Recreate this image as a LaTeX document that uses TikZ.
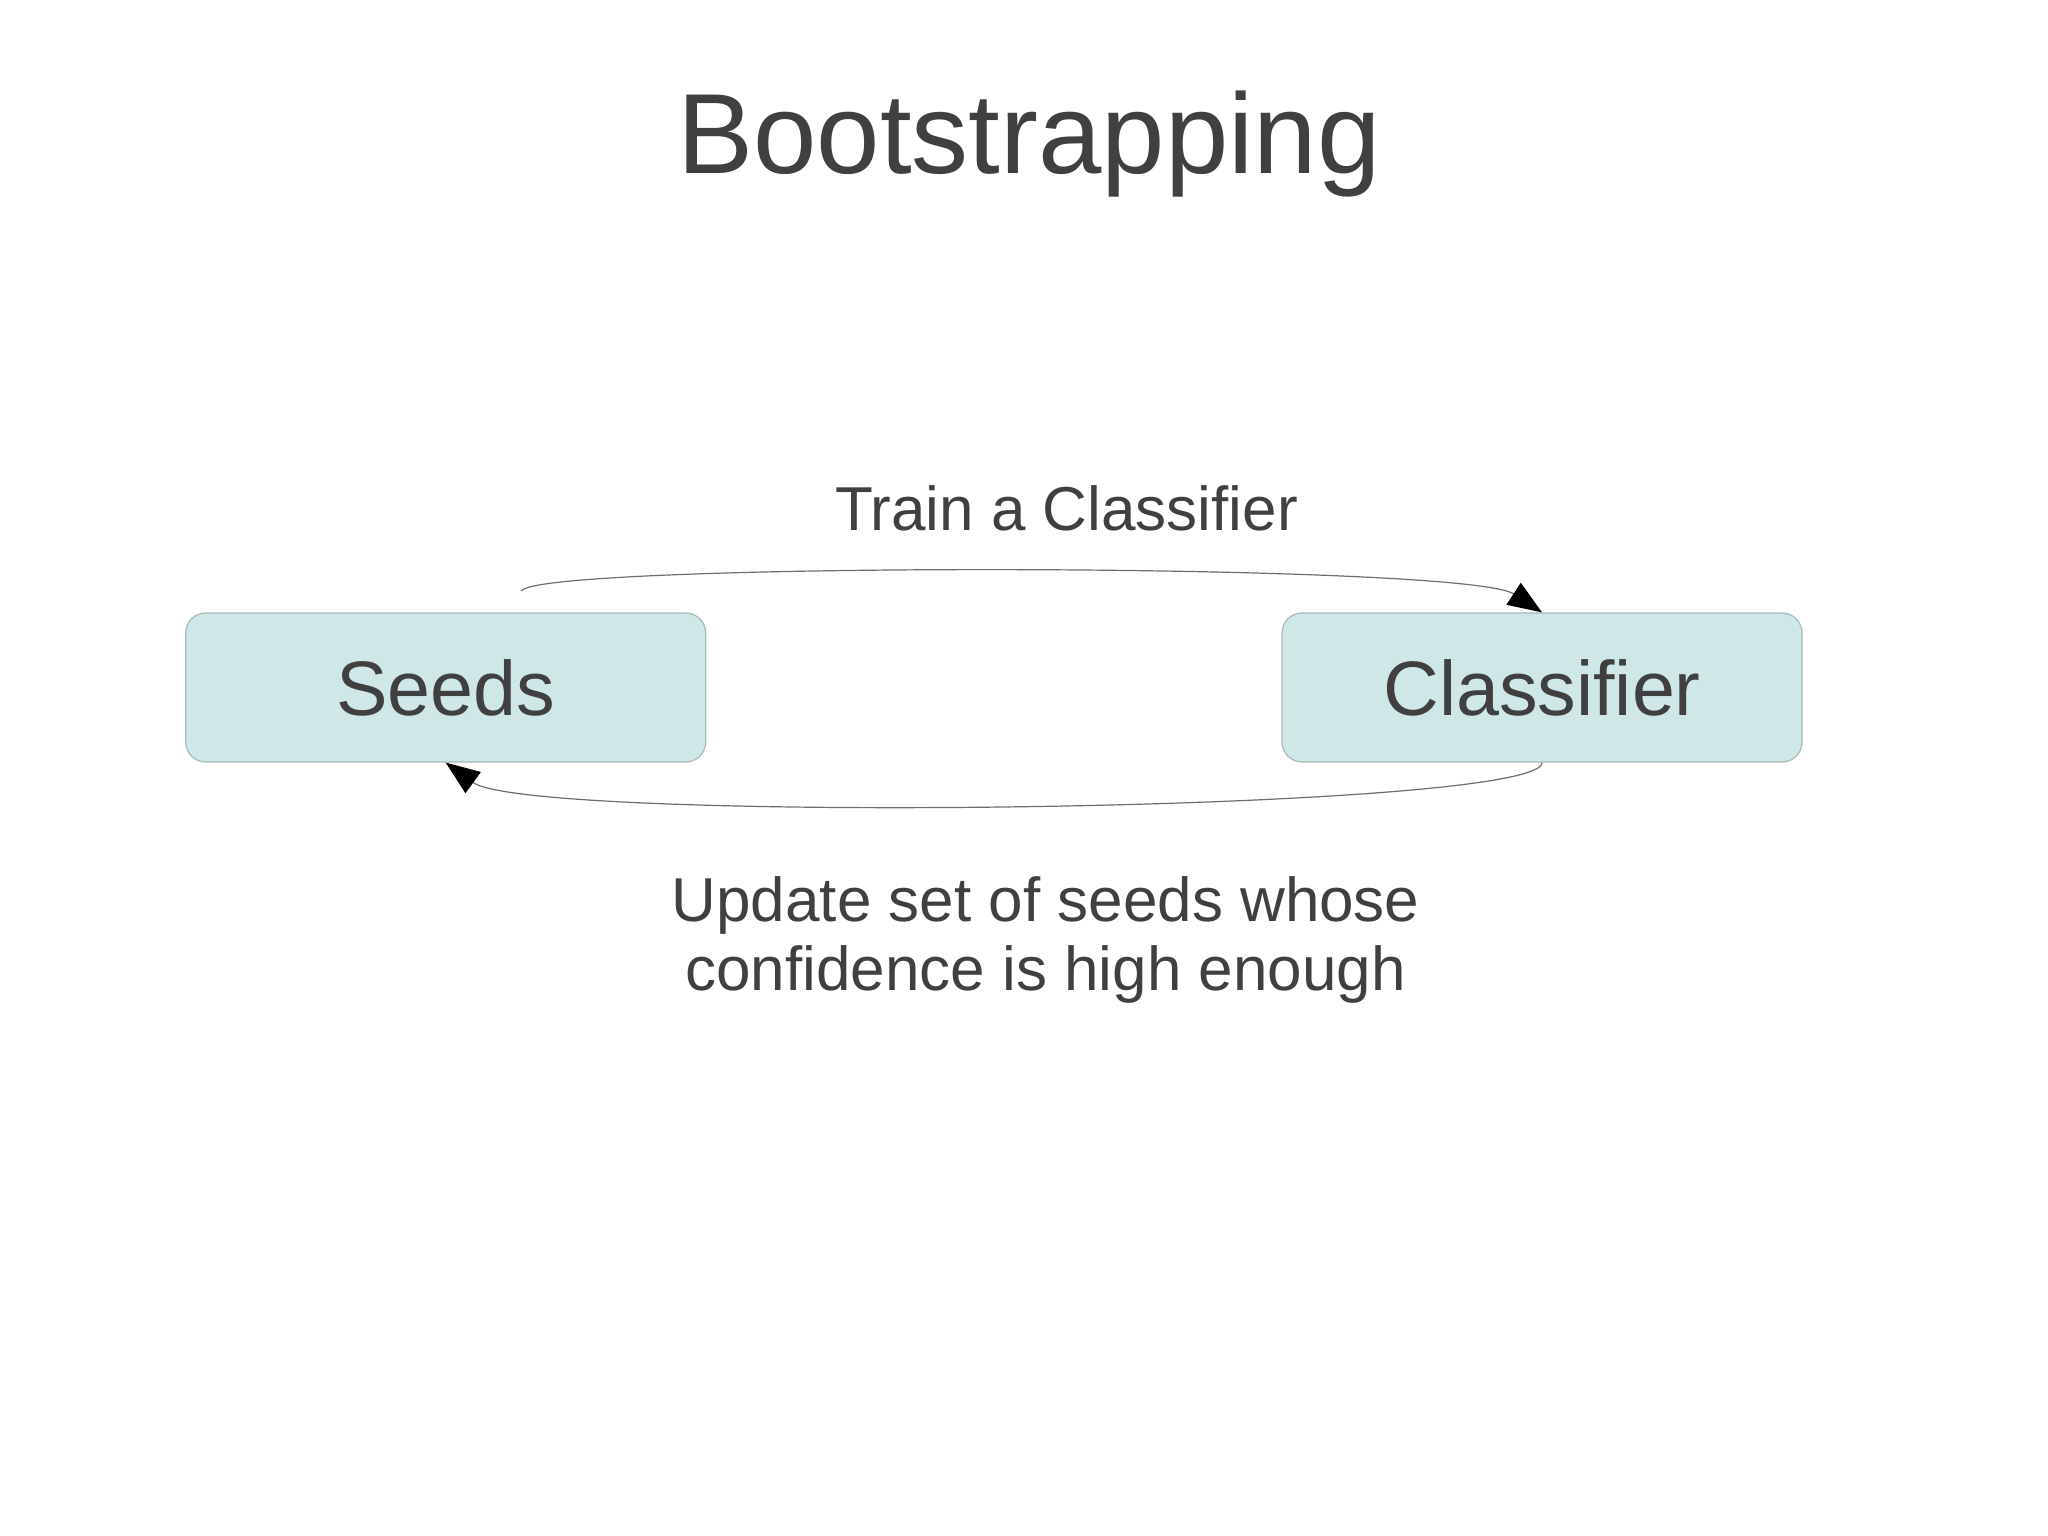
\documentclass[tikz,border=0pt]{standalone}
\usepackage{fontspec}
\setmainfont{Liberation Sans}
\usetikzlibrary{arrows.meta}

\definecolor{inkgray}{RGB}{64,64,64}
\definecolor{boxfill}{RGB}{207,231,230}
\definecolor{boxline}{RGB}{168,186,186}
\definecolor{flowline}{RGB}{110,110,110}

\tikzset{
  stagebox/.style={draw=boxline, fill=boxfill, rounded corners=10pt, line width=0.6pt,
    minimum width=260pt, minimum height=74.5pt, inner sep=0pt, text=inkgray,
    font=\fontsize{38.6}{42}\selectfont},
  flow/.style={draw=flowline, line width=0.6pt, -{Triangle[length=17pt,width=13pt,fill=black,color=black]}},
  caption/.style={text=inkgray, inner sep=0.75pt, font=\fontsize{31}{34.4}\selectfont, align=center}
}

\begin{document}
\begin{tikzpicture}[x=0.5pt,y=0.5pt,yscale=-1,xscale=1]
\useasboundingbox[fill=white] (0,0) rectangle (2048,1535);

% Text Node
\node (title) [anchor=base, text=inkgray, inner sep=0pt, font=\fontsize{57}{62}\selectfont] at (1029,174) {Bootstrapping};

% Boxes
\node (seeds) [stagebox] at (445.7,687.5) {Seeds};
\node (classifier) [stagebox] at (1542,687.5) {Classifier};

%Curve Lines
\coordinate (trainstart) at (521.5,591);
\draw [flow] (trainstart) .. controls (534,562) and (1465,562) .. (classifier.north);
%Curve Lines
\draw [flow] (classifier.south) .. controls (1542,812) and (530,824) .. (seeds.south);

% Text Node
\node (train) [caption, anchor=base] at (1066.5,530.6) {Train a Classifier};
% Text Node
\node (update) [caption, anchor=base] at (1045.6,990.7) {Update set of seeds whose\\confidence is high enough};

\end{tikzpicture}
\end{document}
